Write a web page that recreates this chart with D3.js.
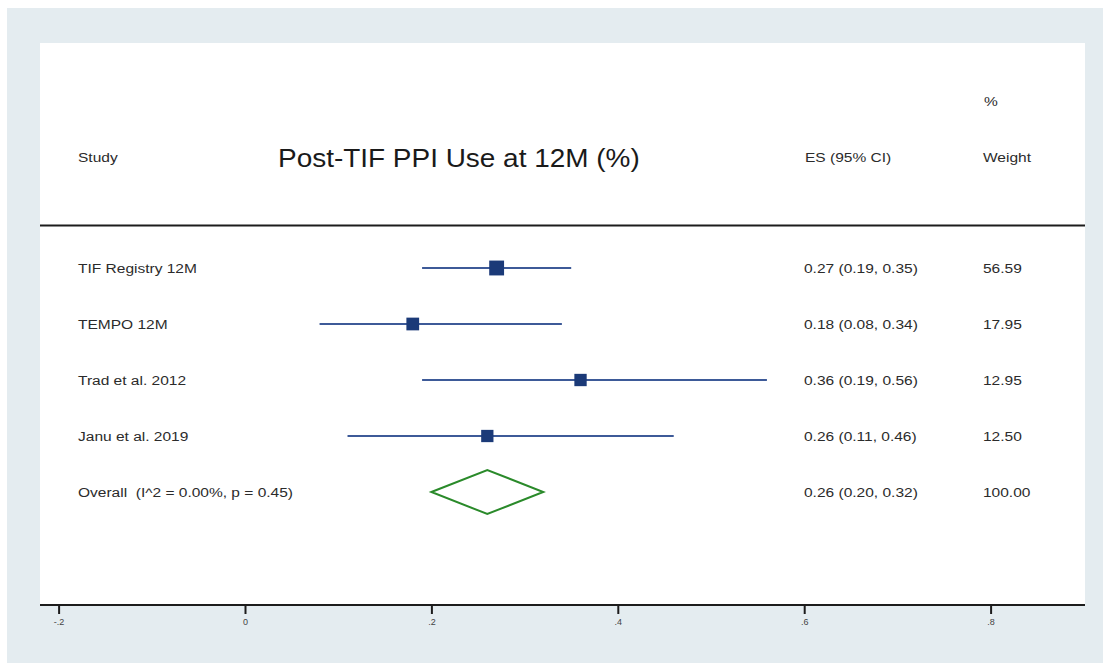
<!DOCTYPE html>
<html>
<head>
<meta charset="utf-8">
<script src="https://cdn.jsdelivr.net/npm/d3@7"></script>
<style>
  html, body { margin: 0; padding: 0; background: #ffffff; }
  svg { display: block; font-family: "Liberation Sans", Arial, Helvetica, sans-serif; }
  text { white-space: pre; }
</style>
</head>
<body>
<svg id="chart" width="1111" height="669"></svg>
<script>
// Study-level estimates (proportion using PPI at 12 months)
const studies   = ["TIF Registry 12M", "TEMPO 12M", "Trad et al. 2012", "Janu et al. 2019"];
const estimates = [0.27, 0.18, 0.36, 0.26];
const lowerCI   = [0.19, 0.08, 0.19, 0.11];
const upperCI   = [0.35, 0.34, 0.56, 0.46];
const weights   = [56.59, 17.95, 12.95, 12.50];

// Pooled estimate
const overallLabel = "Overall  (I^2 = 0.00%, p = 0.45)";
const overallES    = 0.26;
const overallLow   = 0.20;
const overallHigh  = 0.32;
const overallWeight = 100.00;

// Axis ticks
const tickValues = [-0.2, 0, 0.2, 0.4, 0.6, 0.8];
const tickLabels = ["-.2", "0", ".2", ".4", ".6", ".8"];

const fmt2 = d3.format(".2f");
const svg = d3.select("#chart");
const textColor = "#2b2b2b";

// Text drawn slightly widened horizontally, anchored at its left edge
function wideText(parent, x, y, str, size, sx, fill) {
  return parent.append("text")
    .attr("transform", `translate(${x},${y}) scale(${sx},1)`)
    .attr("dy", "0.35em")
    .attr("font-size", size)
    .attr("fill", fill || textColor)
    .text(str);
}

// Frame: light outer field with a white plot region
svg.append("rect").attr("x", 7).attr("y", 8).attr("width", 1096).attr("height", 655)
  .attr("fill", "#e4ecf0");
svg.append("rect").attr("x", 40).attr("y", 43).attr("width", 1045).attr("height", 562)
  .attr("fill", "#ffffff");

const x = d3.scaleLinear().domain([0, 0.8]).range([245, 990.6]);

const rows = studies.map((s, i) => ({
  study: s, es: estimates[i], lo: lowerCI[i], hi: upperCI[i], w: weights[i]
}));
const rowKeys = studies.concat([overallLabel]);
const y = d3.scalePoint().domain(rowKeys).range([268, 492]);
const boxSize = d3.scaleSqrt().domain([0, 60]).range([10, 15]);

const fs = 13.5, sx = 1.15;

// Header
const header = svg.append("g");
wideText(header, 78, 157, "Study", fs, sx);
wideText(header, 278, 158, "Post-TIF PPI Use at 12M (%)", 26.5, 1.055, "#1a1a1a");
wideText(header, 805, 157, "ES (95% CI)", fs, sx);
wideText(header, 984, 101, "%", fs, sx);
wideText(header, 983, 157, "Weight", fs, sx);

svg.append("line").attr("x1", 40).attr("x2", 1085).attr("y1", 225.5).attr("y2", 225.5)
  .attr("stroke", "#1c1c1c").attr("stroke-width", 2);

// Study rows
const rowG = svg.append("g").selectAll("g").data(rows).join("g")
  .attr("transform", d => `translate(0,${y(d.study)})`);

rowG.append("line")
  .attr("x1", d => x(d.lo)).attr("x2", d => x(d.hi))
  .attr("stroke", "#3d5a98").attr("stroke-width", 2);

rowG.append("rect")
  .attr("x", d => x(d.es) - boxSize(d.w) / 2)
  .attr("y", d => -boxSize(d.w) / 2)
  .attr("width", d => boxSize(d.w)).attr("height", d => boxSize(d.w))
  .attr("fill", "#1b3a78");

rowG.each(function (d) {
  const g = d3.select(this);
  wideText(g, 78, 0, d.study, fs, sx);
  wideText(g, 804, 0, `${fmt2(d.es)} (${fmt2(d.lo)}, ${fmt2(d.hi)})`, fs, sx);
  wideText(g, 983, 0, fmt2(d.w), fs, sx);
});

// Pooled diamond
const yo = y(overallLabel);
const dh = 22;
svg.append("path")
  .attr("d", `M${x(overallLow)},${yo} L${x(overallES)},${yo - dh} L${x(overallHigh)},${yo} L${x(overallES)},${yo + dh} Z`)
  .attr("fill", "none").attr("stroke", "#2a8a2a").attr("stroke-width", 2);
const og = svg.append("g");
wideText(og, 78, yo, overallLabel, fs, sx);
wideText(og, 804, yo, `${fmt2(overallES)} (${fmt2(overallLow)}, ${fmt2(overallHigh)})`, fs, sx);
wideText(og, 983, yo, fmt2(overallWeight), fs, sx);

// Bottom axis
const axis = d3.axisBottom(x).tickValues(tickValues)
  .tickFormat((d, i) => tickLabels[i]).tickSize(9).tickPadding(5);
const axisG = svg.append("g").attr("transform", "translate(0,605)").call(axis);
axisG.select(".domain").remove();
axisG.append("line").attr("x1", 40).attr("x2", 1085).attr("stroke", "#1c1c1c").attr("stroke-width", 2);
axisG.selectAll(".tick line").attr("stroke", "#1c1c1c").attr("stroke-width", 2);
axisG.selectAll(".tick text").attr("fill", "#444").attr("font-size", 9)
  .attr("font-family", "Liberation Sans, Arial, sans-serif");
</script>
</body>
</html>
